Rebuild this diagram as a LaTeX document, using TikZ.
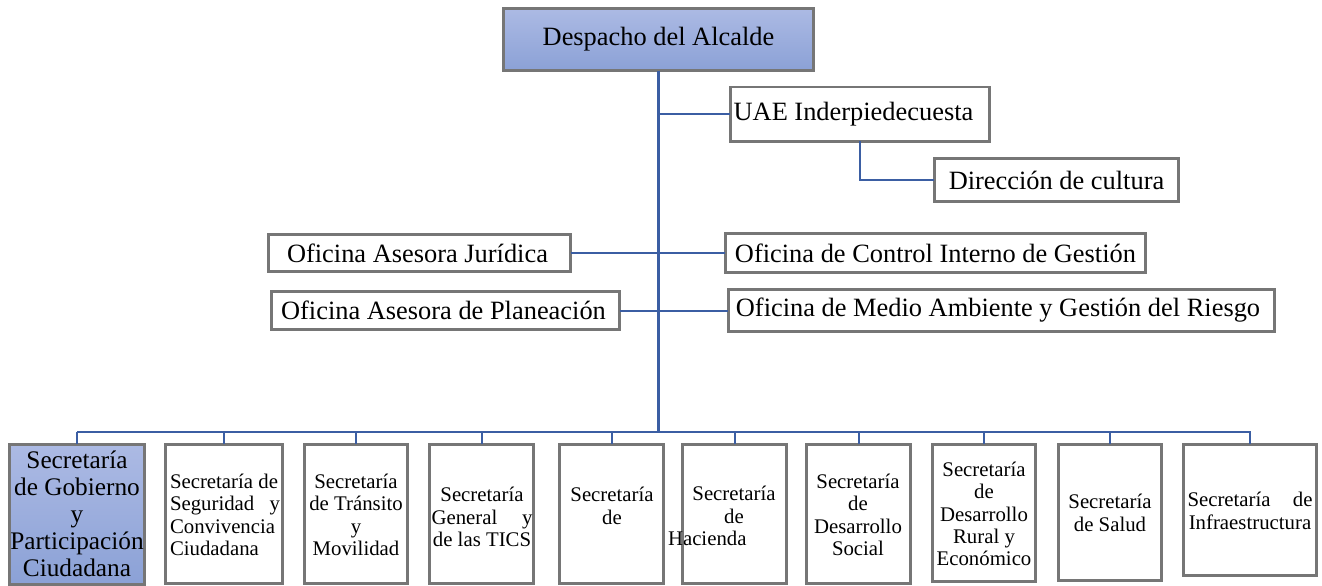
\documentclass[tikz,border=0pt]{standalone}
\usepackage{fontspec}
\setmainfont{Liberation Serif}
\definecolor{conn}{RGB}{59,94,163}
\definecolor{frame}{RGB}{118,118,118}
\definecolor{bluetop}{RGB}{172,186,228}
\definecolor{bluebot}{RGB}{139,161,214}
\begin{document}
\begin{tikzpicture}[x=1pt,y=-1pt,
  box/.style={draw=frame, line width=2.8pt, fill=white, inner sep=0pt, outer sep=0pt},
  bluebox/.style={box, top color=bluetop, bottom color=bluebot},
  toptxt/.style={font=\fontsize{26.4}{30}\selectfont},
  sectxt/.style={font=\fontsize{20.8}{22.3}\selectfont, align=flush center, inner sep=0pt},
  gobtxt/.style={font=\fontsize{25.3}{27}\selectfont, align=flush center, inner sep=0pt},
  link/.style={draw=conn, line width=2pt},
  trunk/.style={draw=conn, line width=3pt}]
\useasboundingbox (0,0) rectangle (1322,586);

% top boxes
\node[bluebox, toptxt, minimum width=310.2pt, minimum height=62.2pt] (desp) at (658.5,39.5) {Despacho del Alcalde};
\node[box, toptxt, minimum width=259.2pt, minimum height=54.2pt] (uae) at (860,114) {\hspace*{-13pt}UAE Inderpiedecuesta};
\node[box, toptxt, minimum width=244.2pt, minimum height=43.2pt] (dir) at (1056.5,180) {Dirección de cultura};
\node[box, toptxt, minimum width=302.2pt, minimum height=37.2pt] (jur) at (419.5,253) {\hspace*{-4pt}Oficina Asesora Jurídica};
\node[box, toptxt, minimum width=420.2pt, minimum height=39.2pt] (ctrl) at (935.5,253) {Oficina de Control Interno de Gestión};
\node[box, toptxt, minimum width=348.2pt, minimum height=38.2pt] (plan) at (445.5,310.5) {\hspace*{-4pt}Oficina Asesora de Planeación};
\node[box, toptxt, minimum width=546.2pt, minimum height=42.2pt] (medio) at (1001.5,310.5) {\hspace*{-7pt}Oficina de Medio Ambiente y Gestión del Riesgo};

% bottom boxes
\node[bluebox, minimum width=135.2pt, minimum height=140.2pt] (b1) at (77,514.5) {};
\node[box, minimum width=117.2pt, minimum height=139.2pt] (b2) at (224,514) {};
\node[box, minimum width=103.2pt, minimum height=139.2pt] (b3) at (356,514) {};
\node[box, minimum width=104.2pt, minimum height=139.2pt] (b4) at (481.5,514) {};
\node[box, minimum width=104.2pt, minimum height=139.2pt] (b5) at (611.5,514) {};
\node[box, minimum width=104.2pt, minimum height=139.2pt] (b6) at (734.5,514) {};
\node[box, minimum width=104.2pt, minimum height=139.2pt] (b7) at (858.5,514) {};
\node[box, minimum width=103.2pt, minimum height=137.2pt] (b8) at (984,513) {};
\node[box, minimum width=103.2pt, minimum height=136.2pt] (b9) at (1110,512.5) {};
\node[box, minimum width=133.2pt, minimum height=131.2pt] (b10) at (1250,510) {};

% texts of bottom boxes
\node[gobtxt, text width=136pt] (t1) at (77,514) {Secretaría\\de Gobierno\\y\\Participación\\Ciudadana};
\node[sectxt, align=flush left, text width=110pt] (t2) at (225,515) {Secretaría de\\Seguridad\hfill y\\Convivencia\\Ciudadana};
\node[sectxt, text width=104pt] (t3) at (356,515) {Secretaría\\de Tránsito\\y\\Movilidad};
\node[sectxt, text width=101pt] (t4) at (482,517) {Secretaría\\General\hfill y\\de las TICS};
\node[sectxt, text width=104pt] (t5) at (612,506) {Secretaría\\de};
\node[sectxt, text width=132pt] (t6) at (734,516) {Secretaría\\de\\Hacienda\hfill\mbox{}};
\node[sectxt, text width=104pt] (t7) at (858,515) {Secretaría\\de\\Desarrollo\\Social};
\node[sectxt, text width=104pt] (t8) at (984,514) {Secretaría\\de\\Desarrollo\\Rural y\\Económico};
\node[sectxt, text width=104pt] (t9) at (1110,513) {Secretaría\\de Salud};
\node[sectxt, text width=125pt] (t10) at (1250,511) {Secretaría\hfill de\\Infraestructura};

% connectors
\coordinate (busL) at (77,432);
\coordinate (busR) at (1251,432);
\draw[trunk] (desp.south) -- (desp.south |- busL);
\draw[link] (desp.south |- uae.west) -- (uae.west);
\draw[link] (uae.south) |- (dir.west);
\draw[link] (jur.east) -- (ctrl.west);
\draw[link] (plan.east) -- (medio.west);
\draw[trunk, line width=2.8pt] (busL) -- (busR);
\foreach \i in {1,...,10} {
  \draw[link] (b\i.north) -- (b\i.north |- busL);
}
\end{tikzpicture}
\end{document}
